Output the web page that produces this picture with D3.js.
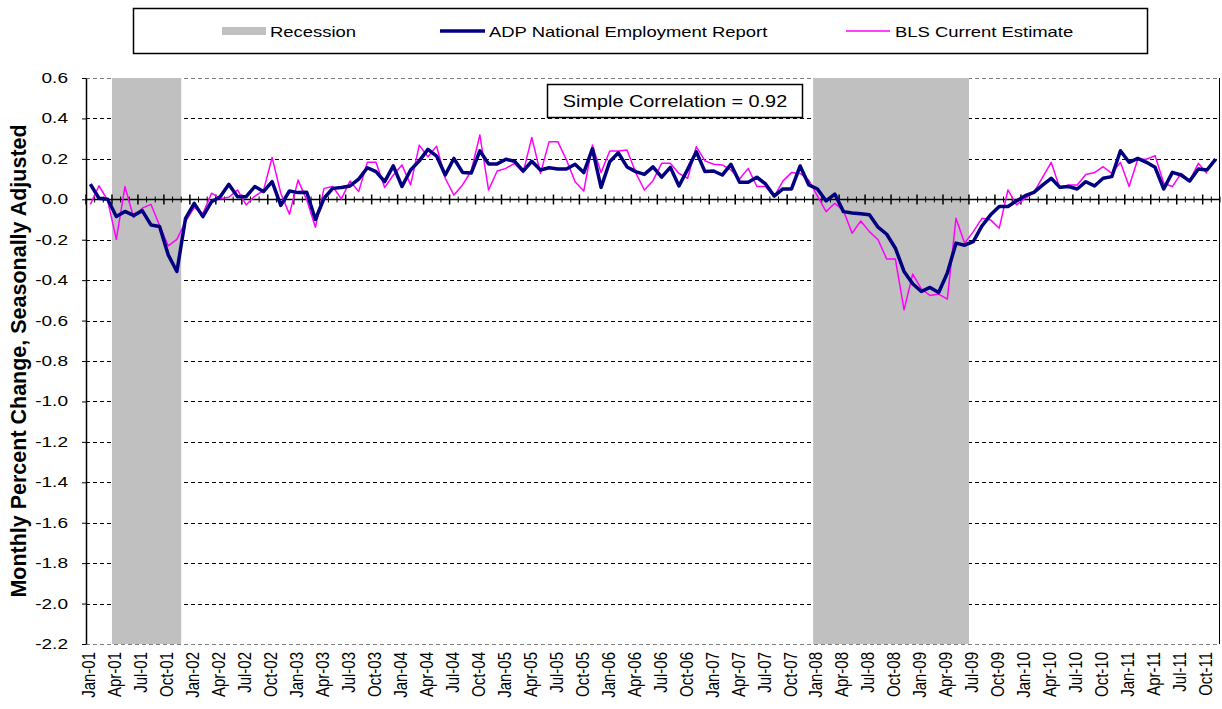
<!DOCTYPE html>
<html>
<head>
<meta charset="utf-8">
<script src="https://cdn.jsdelivr.net/npm/d3@7"></script>
<style>
  body { margin: 0; background: #fff; }
  text { font-family: "Liberation Sans", Arial, sans-serif; }
</style>
</head>
<body>
<div id="chart"></div>
<script>
// months Jan-01 .. Nov-11
var months = d3.timeMonth.range(new Date(2001, 0, 1), new Date(2011, 11, 1));
var fmt = d3.timeFormat("%b-%y");
var monthLabels = months.map(fmt);

// ADP National Employment Report, monthly % change
var adp = [
  0.075, 0.005, 0.0, -0.085, -0.06, -0.08, -0.056, -0.127, -0.135, -0.275, -0.357, -0.094,
  -0.02, -0.086, -0.012, 0.013, 0.074, 0.013, 0.013, 0.063, 0.038, 0.087, -0.03, 0.041,
  0.033, 0.035, -0.10, 0.005, 0.054, 0.058, 0.066, 0.10, 0.156, 0.137, 0.087, 0.165,
  0.063, 0.145, 0.19, 0.247, 0.214, 0.12, 0.202, 0.133, 0.13, 0.24, 0.175, 0.175,
  0.198, 0.188, 0.14, 0.188, 0.145, 0.156, 0.15, 0.15, 0.173, 0.132, 0.25, 0.059,
  0.186, 0.23, 0.16, 0.137, 0.123, 0.16, 0.11, 0.158, 0.066, 0.148, 0.235, 0.137,
  0.14, 0.12, 0.173, 0.084, 0.084, 0.109, 0.076, 0.016, 0.051, 0.051, 0.165, 0.071,
  0.051, -0.008, 0.026, -0.061, -0.068, -0.072, -0.076, -0.138, -0.173, -0.242, -0.357, -0.418,
  -0.456, -0.436, -0.461, -0.365, -0.217, -0.227, -0.209, -0.132, -0.077, -0.036, -0.036, -0.008,
  0.018, 0.034, 0.07, 0.104, 0.059, 0.063, 0.051, 0.087, 0.066, 0.104, 0.112, 0.24,
  0.183, 0.202, 0.183, 0.158, 0.051, 0.133, 0.12, 0.09, 0.15, 0.145, 0.199
];

// BLS Current Estimate (ends Oct-11)
var bls = [
  -0.025, 0.067, -0.005, -0.198, 0.063, -0.09, -0.044, -0.025, -0.13, -0.23, -0.198, -0.11,
  -0.04, -0.072, 0.03, 0.003, 0.01, 0.046, -0.028, 0.016, 0.043, 0.207, 0.03, -0.074,
  0.095, -0.003, -0.138, 0.054, 0.063, 0.002, 0.09, 0.038, 0.183, 0.183, 0.058, 0.12,
  0.17, 0.071, 0.268, 0.21, 0.263, 0.104, 0.021, 0.071, 0.14, 0.318, 0.046, 0.14,
  0.153, 0.178, 0.132, 0.306, 0.128, 0.285, 0.285, 0.195, 0.087, 0.041, 0.268, 0.132,
  0.239, 0.239, 0.244, 0.132, 0.046, 0.092, 0.178, 0.178, 0.128, 0.104, 0.26, 0.19,
  0.173, 0.17, 0.145, 0.1, 0.153, 0.063, 0.063, 0.013, 0.09, 0.132, 0.128, 0.095,
  0.016, -0.061, -0.02, -0.056, -0.168, -0.107, -0.16, -0.2, -0.296, -0.296, -0.547, -0.37,
  -0.443, -0.476, -0.469, -0.494, -0.094, -0.217, -0.16, -0.094, -0.102, -0.143, 0.046, -0.028,
  0.005, 0.034, 0.108, 0.183, 0.054, 0.071, 0.071, 0.123, 0.132, 0.161, 0.128, 0.183,
  0.063, 0.198, 0.198, 0.216, 0.079, 0.063, 0.128, 0.092, 0.178, 0.128
];

var recessions = [["Apr-01", "Nov-01"], ["Jan-08", "Jun-09"]];
var yTicks = [0.6, 0.4, 0.2, 0.0, -0.2, -0.4, -0.6, -0.8, -1.0, -1.2, -1.4, -1.6, -1.8, -2.0, -2.2];
var xTickLabels = monthLabels.filter(function(d, i) { return i % 3 === 0; });
var legendItems = ["Recession", "ADP National Employment Report", "BLS Current Estimate"];
var correlation = "Simple Correlation = 0.92";

var W = 1222, H = 709;
var margin = { top: 78, right: 2, bottom: 65, left: 86 };

var svg = d3.select("#chart").append("svg")
  .attr("width", W)
  .attr("height", H);

var x = d3.scaleBand()
  .domain(monthLabels)
  .range([margin.left, W - margin.right])
  .padding(0);

var y = d3.scaleLinear()
  .domain([-2.2, 0.6])
  .range([H - margin.bottom, margin.top]);

var bw = x.bandwidth();
var cx = function(i) { return x(monthLabels[i]) + bw / 2; };

// the original picture is stretched sideways, so text is too
var SX = 1.27;
var yfmt = function(d) { return d3.format(".1f")(d).replace("\u2212", "-"); };

// gridlines
svg.append("g")
  .selectAll("line")
  .data(yTicks.filter(function(d) { return d !== 0; }))
  .join("line")
  .attr("x1", margin.left)
  .attr("x2", W - margin.right)
  .attr("y1", function(d) { return Math.round(y(d)) + 0.5; })
  .attr("y2", function(d) { return Math.round(y(d)) + 0.5; })
  .attr("stroke", function(d) { return (d === 0.6 || d === -2.2) ? "#808080" : "#000"; })
  .attr("stroke-width", 1)
  .attr("stroke-dasharray", "4,3");

// recession shading
svg.append("g")
  .selectAll("rect")
  .data(recessions)
  .join("rect")
  .attr("x", function(d) { return x(d[0]); })
  .attr("width", function(d) { return x(d[1]) + bw - x(d[0]); })
  .attr("y", margin.top)
  .attr("height", y(-2.2) - margin.top)
  .attr("fill", "#c0c0c0");

// right border
svg.append("line")
  .attr("x1", W - margin.right - 0.5).attr("x2", W - margin.right - 0.5)
  .attr("y1", margin.top).attr("y2", y(-2.2))
  .attr("stroke", "#000");

// y axis (labels drawn separately so they can be stretched)
var yAxis = svg.append("g")
  .attr("transform", "translate(" + margin.left + ",0)")
  .call(d3.axisLeft(y)
    .tickValues(yTicks)
    .tickSize(4)
    .tickSizeOuter(0)
    .tickFormat(""));
yAxis.select(".domain").attr("stroke", "#000").attr("stroke-width", 1.5);
yAxis.selectAll(".tick line").attr("stroke", "#000");

svg.append("g")
  .selectAll("text")
  .data(yTicks)
  .join("text")
  .attr("transform", function(d) {
    return "translate(68," + (y(d) + 5) + ") scale(1.36,1)";
  })
  .attr("text-anchor", "end")
  .attr("font-size", 14)
  .text(yfmt);

// zero axis with ticks at category boundaries
var y0 = Math.round(y(0)) + 0.5;
var zeroAxis = svg.append("g");
zeroAxis.append("line")
  .attr("x1", margin.left).attr("x2", W - margin.right)
  .attr("y1", y0).attr("y2", y0)
  .attr("stroke", "#000").attr("stroke-width", 1.5);
zeroAxis.selectAll(".tk")
  .data(d3.range(monthLabels.length + 1))
  .join("line")
  .attr("class", "tk")
  .attr("x1", function(i) { return i < monthLabels.length ? x(monthLabels[i]) : W - margin.right; })
  .attr("x2", function(i) { return i < monthLabels.length ? x(monthLabels[i]) : W - margin.right; })
  .attr("y1", function(i) { return y0 - (i % 3 === 0 ? 5 : 3); })
  .attr("y2", function(i) { return y0 + (i % 3 === 0 ? 5 : 3); })
  .attr("stroke", "#000")
  .attr("stroke-width", function(i) { return i % 3 === 0 ? 1.5 : 1; });

// x labels
svg.append("g")
  .selectAll("text")
  .data(xTickLabels)
  .join("text")
  .attr("transform", function(d) {
    return "translate(" + (x(d) + bw / 2 + 5) + "," + (y(-2.2) + 8) + ") scale(" + SX + ",1) rotate(-90)";
  })
  .attr("text-anchor", "end")
  .attr("font-size", 15)
  .text(function(d) { return d; });

// lines
var line = d3.line()
  .x(function(d, i) { return cx(i); })
  .y(function(d) { return y(d); });

svg.append("path")
  .datum(bls)
  .attr("fill", "none")
  .attr("stroke", "#ff00ff")
  .attr("stroke-width", 1.5)
  .attr("stroke-linejoin", "round")
  .attr("d", line);

svg.append("path")
  .datum(adp)
  .attr("fill", "none")
  .attr("stroke", "#000080")
  .attr("stroke-width", 3.5)
  .attr("stroke-linejoin", "round")
  .attr("d", line);

// y title
svg.append("text")
  .attr("transform", "translate(26," + ((margin.top + y(-2.2)) / 2) + ") scale(1.05,1) rotate(-90)")
  .attr("text-anchor", "middle")
  .attr("font-size", 21.5)
  .attr("font-weight", "bold")
  .text("Monthly Percent Change, Seasonally Adjusted");

// correlation box
var cb = svg.append("g");
cb.append("rect")
  .attr("x", 547.5).attr("y", 84.5).attr("width", 255).attr("height", 33)
  .attr("fill", "#fff").attr("stroke", "#000").attr("stroke-width", 1.5);
cb.append("text")
  .attr("transform", "translate(675,107) scale(1.24,1)")
  .attr("text-anchor", "middle")
  .attr("font-size", 16)
  .text(correlation);

// legend
var lg = svg.append("g");
lg.append("rect")
  .attr("x", 133.5).attr("y", 8.5).attr("width", 1014).attr("height", 45)
  .attr("fill", "#fff").attr("stroke", "#000").attr("stroke-width", 1.5);
lg.append("rect")
  .attr("x", 222).attr("y", 27).attr("width", 44).attr("height", 8)
  .attr("fill", "#c0c0c0");
lg.append("line")
  .attr("x1", 440).attr("x2", 485).attr("y1", 31).attr("y2", 31)
  .attr("stroke", "#000080").attr("stroke-width", 3.5);
lg.append("line")
  .attr("x1", 846).attr("x2", 890).attr("y1", 31).attr("y2", 31)
  .attr("stroke", "#ff00ff").attr("stroke-width", 1.5);
lg.selectAll(".lt")
  .data(legendItems)
  .join("text")
  .attr("class", "lt")
  .attr("transform", function(d, i) { return "translate(" + [270, 489, 895][i] + ",36.5) scale(1.23,1)"; })
  .attr("font-size", 15)
  .text(function(d) { return d; });
</script>
</body>
</html>
